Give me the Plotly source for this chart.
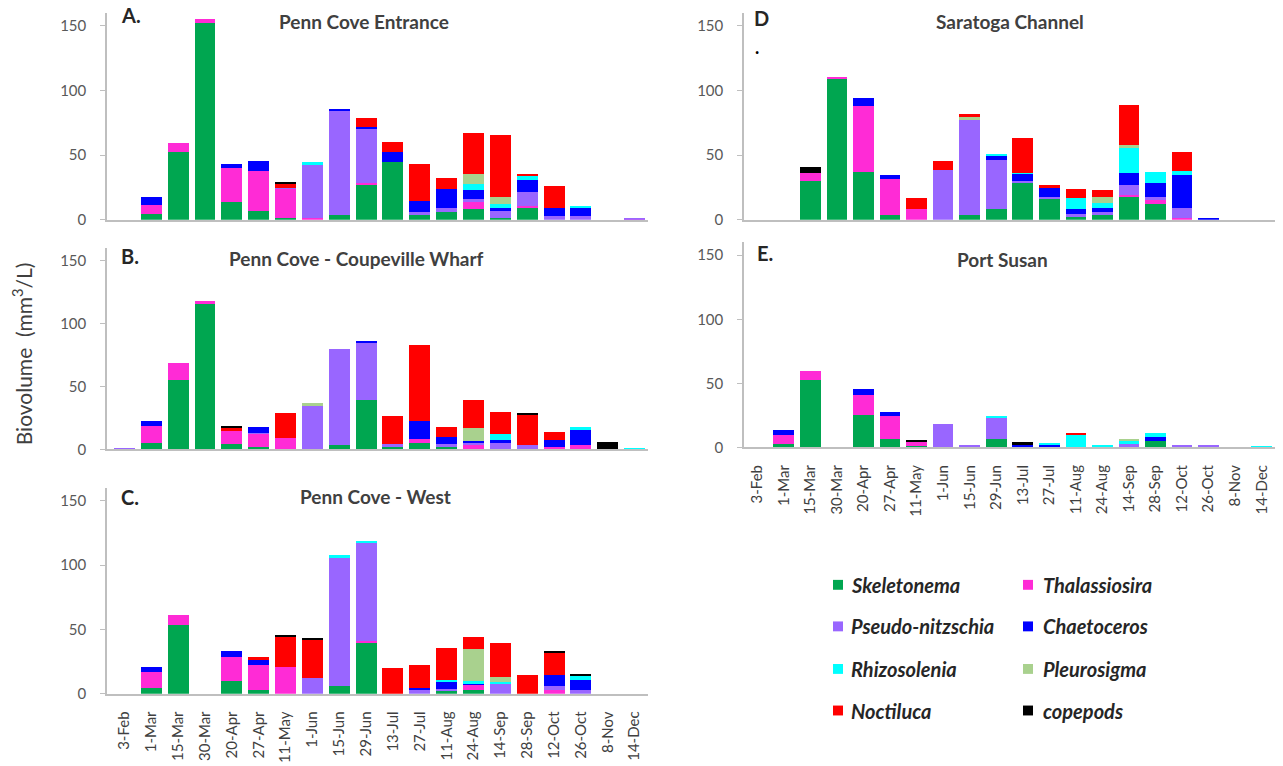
import plotly.graph_objects as go

W, H = 1283, 766

dates = ["3-Feb", "1-Mar", "15-Mar", "30-Mar", "20-Apr", "27-Apr", "11-May", "1-Jun",
         "15-Jun", "29-Jun", "13-Jul", "27-Jul", "11-Aug", "24-Aug", "14-Sep", "28-Sep",
         "12-Oct", "26-Oct", "8-Nov", "14-Dec"]

species = ["Skeletonema", "Thalassiosira", "Pseudo-nitzschia", "Chaetoceros",
           "Rhizosolenia", "Pleurosigma", "Noctiluca", "copepods"]
colors = ["#00A650", "#FF2BD6", "#9966FF", "#0000FF",
          "#00FFFF", "#A9D18E", "#FF0000", "#000000"]

# A. Penn Cove Entrance
skeletonema_A = [0, 4.5, 52, 152.5, 13.5, 7, 1, 0, 3.6, 27, 44.4, 4, 6, 8.4, 1.5, 9.2, 0, 0, 0, 0]
thalassiosira_A = [0, 6.5, 7, 2.8, 26.3, 31, 23, 1.5, 0, 1, 0, 0, 0, 5, 0, 1.3, 0, 0, 0, 0.3]
pseudonitzschia_A = [0, 0, 0, 0, 0, 0, 0.5, 41.6, 80.6, 43, 0, 2, 3, 2.5, 5, 10.7, 2.8, 2.8, 0, 1.2]
chaetoceros_A = [0, 6.3, 0, 0, 3.3, 7.7, 0, 0, 1.8, 1, 7.7, 8.7, 14.5, 7, 2.5, 9.7, 6.4, 5.9, 0, 0]
rhizosolenia_A = [0, 0, 0, 0, 0, 0, 0, 1.3, 0, 0, 0, 0, 0, 4.6, 3.3, 3, 0, 2, 0, 0]
pleurosigma_A = [0, 0, 0, 0, 0, 0, 0, 0, 0, 0, 0, 0, 0, 8.2, 5.6, 0, 0, 0, 0, 0]
noctiluca_A = [0, 0, 0, 0, 0, 0, 3.5, 0, 0, 6.5, 8.2, 28.3, 8.9, 31, 47.7, 1.5, 16.6, 0, 0, 0]
copepods_A = [0, 0, 0, 0, 0, 0, 0.5, 0, 0, 0, 0, 0, 0, 0, 0, 0, 0, 0, 0, 0]

# B. Penn Cove - Coupeville Wharf
skeletonema_B = [0, 4.7, 55, 115.7, 3.9, 1.5, 0, 0, 3.4, 39.4, 1.8, 4.7, 2, 0, 0, 0, 0, 0, 0, 0]
thalassiosira_B = [0, 13.8, 13.6, 2, 10.4, 11, 8.6, 0, 0, 0, 0, 3.4, 0, 3.4, 0, 0, 2, 3.4, 0, 0]
pseudonitzschia_B = [0.5, 0, 0, 0, 0, 0.5, 0, 34.2, 76.2, 45, 2, 0, 1.8, 2, 4.7, 3.4, 0, 0, 0, 0]
chaetoceros_B = [0, 3.7, 0, 0, 0, 4.4, 0, 0, 0, 1, 0, 14.4, 6, 1.3, 2.6, 0, 5.2, 11.7, 0, 0]
rhizosolenia_B = [0, 0, 0, 0, 0, 0, 0, 0, 0, 0, 0, 0, 0, 0, 5.2, 0, 0, 2.3, 0, 0.5]
pleurosigma_B = [0, 0, 0, 0, 0, 0, 0, 2.8, 0, 0, 0, 0, 0, 10.2, 0, 0, 0, 0, 0, 0]
noctiluca_B = [0, 0, 0, 0, 2.6, 0, 20.6, 0, 0, 0, 23, 60.3, 7.8, 22.5, 17, 23.5, 6.5, 0, 0, 0]
copepods_B = [0, 0, 0, 0, 0.8, 0, 0, 0, 0, 0, 0, 0, 0, 0, 0, 2, 0, 0, 5.5, 0]

# C. Penn Cove - West
skeletonema_C = [0, 4.6, 53.2, 0, 9.7, 2.8, 0, 0, 5.9, 40, 0, 0, 2, 2.6, 0, 0, 0, 0, 0, 0]
thalassiosira_C = [0, 12, 7.7, 0, 19.2, 19.7, 20.7, 0, 0, 1.3, 0, 0, 0, 3.8, 0, 0, 3, 0, 0, 0]
pseudonitzschia_C = [0, 0, 0, 0, 0, 0, 0, 12.3, 100.3, 76, 0, 2.8, 2, 0, 7.2, 0, 2.8, 2.8, 0, 0]
chaetoceros_C = [0, 3.8, 0, 0, 4.4, 3.8, 0, 0, 0, 0, 0, 1.8, 5.6, 2, 0, 0, 8.4, 8.2, 0, 0]
rhizosolenia_C = [0, 0, 0, 0, 0, 0, 0, 0, 1.5, 1, 0, 0, 1.3, 1.3, 1.8, 0, 0, 2.6, 0, 0]
pleurosigma_C = [0, 0, 0, 0, 0, 0, 0, 0, 0, 0, 0, 0, 0, 24.8, 3.8, 0, 0, 0, 0, 0]
noctiluca_C = [0, 0, 0, 0, 0, 2, 23.5, 30.2, 0, 0, 20, 17.9, 24.8, 9.2, 26.9, 14.8, 17.1, 0, 0, 0]
copepods_C = [0, 0, 0, 0, 0, 0, 0.8, 1, 0, 0, 0, 0, 0, 0, 0, 0, 1.8, 1.8, 0, 0]

# D. Saratoga Channel
skeletonema_D = [0, 0, 30.3, 109.2, 36.9, 3.6, 0, 0, 3.6, 8, 28.5, 16.4, 2.8, 3.6, 17.7, 12.3, 0, 0, 0, 0]
thalassiosira_D = [0, 0, 5.9, 1.3, 51.3, 28.2, 8.5, 0, 0, 0, 0, 0, 0, 0, 1.3, 2.8, 1.3, 0, 0, 0]
pseudonitzschia_D = [0, 0, 0, 0, 0, 0, 0, 38.7, 74.1, 38.5, 1.3, 1, 1.3, 2.6, 8.2, 2.6, 7.9, 0, 0, 0]
chaetoceros_D = [0, 0, 0, 0, 6.2, 3.1, 0, 0, 0, 2.6, 5.9, 7.2, 3.8, 3.1, 9, 10.8, 25.1, 1.5, 0, 0]
rhizosolenia_D = [0, 0, 0, 0, 0, 0, 0, 0, 0, 1.8, 0.5, 0, 8.5, 3.8, 19.7, 8.2, 3.6, 0, 0, 0]
pleurosigma_D = [0, 0, 0, 0, 0, 0, 0, 0, 1.5, 0, 0, 0, 0, 4.4, 1.5, 0, 0, 0, 0, 0]
noctiluca_D = [0, 0, 0, 0, 0, 0, 8.5, 6.9, 2.3, 0, 26.9, 2.6, 7.4, 5.1, 31.3, 0, 14.4, 0, 0, 0]
copepods_D = [0, 0, 4.4, 0, 0, 0, 0, 0, 0, 0, 0, 0, 0, 0, 0, 0, 0, 0, 0, 0]

# E. Port Susan
skeletonema_E = [0, 2.8, 52.7, 0, 25.3, 6.7, 1, 0, 0, 6.7, 0, 0, 0, 0, 0, 4.7, 0, 0, 0, 0]
thalassiosira_E = [0, 6.5, 7, 0, 15.5, 18.1, 3.1, 0, 0, 0, 0, 0, 0, 0, 0, 0, 0, 0.5, 0, 0]
pseudonitzschia_E = [0, 0, 0, 0, 0, 0, 0, 17.8, 1.5, 16, 0, 0, 0, 0, 2.8, 0, 1.8, 1, 0, 0]
chaetoceros_E = [0, 3.9, 0, 0, 4.7, 2.6, 0, 0, 0, 0, 1.5, 1.5, 0, 0, 0, 3.4, 0, 0, 0, 0]
rhizosolenia_E = [0, 0, 0, 0, 0, 0, 0, 0, 0, 1.3, 0, 1, 9.3, 2, 1.8, 3.4, 0, 0, 0, 0.5]
pleurosigma_E = [0, 0, 0, 0, 0, 0, 0, 0, 0, 0, 0, 0, 0, 0, 1.3, 0, 0, 0, 0, 0]
noctiluca_E = [0, 0, 0, 0, 0, 0, 0, 0, 0, 0, 0, 0, 1.8, 0, 0, 0, 0, 0, 0, 0]
copepods_E = [0, 0, 0, 0, 0, 0, 1.8, 0, 0, 0, 2.6, 0, 0, 0, 0, 0, 0, 0, 0, 0]

FONT = "Lato"
GREY_TEXT = "#404040"
AXIS_GREY = "#BFBFBF"


def fx(px):
    return px / W


def fy(px):
    return 1 - px / H


# panel: letter, title, series, x domain (px), x range start, y zero (px), y top (px),
# tick labels shown, letter position, title centre
panels = [
    ("A.", "Penn Cove Entrance",
     [skeletonema_A, thalassiosira_A, pseudonitzschia_A, chaetoceros_A,
      rhizosolenia_A, pleurosigma_A, noctiluca_A, copepods_A],
     (107, 648), -0.65, 222, 13, False, (119, 15), (364, 22)),
    ("B.", "Penn Cove - Coupeville Wharf",
     [skeletonema_B, thalassiosira_B, pseudonitzschia_B, chaetoceros_B,
      rhizosolenia_B, pleurosigma_B, noctiluca_B, copepods_B],
     (107, 648), -0.65, 454, 251, False, (119, 259), (356, 261)),
    ("C.", "Penn Cove - West",
     [skeletonema_C, thalassiosira_C, pseudonitzschia_C, chaetoceros_C,
      rhizosolenia_C, pleurosigma_C, noctiluca_C, copepods_C],
     (107, 648), -0.65, 701, 493, True, (119, 502), (375, 502)),
    ("D", "Saratoga Channel",
     [skeletonema_D, thalassiosira_D, pseudonitzschia_D, chaetoceros_D,
      rhizosolenia_D, pleurosigma_D, noctiluca_D, copepods_D],
     (744, 1275), -0.5, 222, 13, False, (752, 18), (1010, 22)),
    ("E.", "Port Susan",
     [skeletonema_E, thalassiosira_E, pseudonitzschia_E, chaetoceros_E,
      rhizosolenia_E, pleurosigma_E, noctiluca_E, copepods_E],
     (744, 1275), -0.5, 452, 245, True, (755, 256), (1002, 262)),
]

fig = go.Figure()
annotations = []
layout_axes = {}

for i, (letter, title, series, xdom, xstart, y0, ytop, show_x, lpos, tpos) in enumerate(panels):
    n = "" if i == 0 else str(i + 1)
    xa, ya = "x" + n, "y" + n
    for name, col, vals in zip(species, colors, series):
        fig.add_trace(go.Bar(
            x=dates, y=vals, name=name, marker=dict(color=col, line=dict(width=0)),
            xaxis=xa, yaxis=ya, showlegend=False,
        ))
    layout_axes["xaxis" + n] = dict(
        domain=[fx(xdom[0]), fx(xdom[1])], anchor=ya,
        type="category", categoryorder="array", categoryarray=dates,
        range=[xstart, len(dates) - 0.5],
        showline=True, linecolor=AXIS_GREY, linewidth=1.5,
        showgrid=False, zeroline=False, ticks="",
        showticklabels=show_x, tickangle=-90, ticklabelstandoff=10,
        tickfont=dict(family=FONT, size=15, color=GREY_TEXT),
    )
    layout_axes["yaxis" + n] = dict(
        domain=[fy(y0), fy(ytop)], anchor=xa,
        range=[0, 160], tickvals=[0, 50, 100, 150],
        showline=True, linecolor=AXIS_GREY, linewidth=1.5,
        showgrid=False, zeroline=False,
        ticks="outside", ticklen=5, tickcolor=AXIS_GREY, ticklabelstandoff=11,
        tickfont=dict(family=FONT, size=15, color="#595959"),
    )
    annotations.append(dict(
        text="<b>" + letter + "</b>", x=fx(lpos[0]), y=fy(lpos[1]),
        xref="paper", yref="paper", xanchor="left", yanchor="middle",
        showarrow=False, font=dict(family=FONT, size=20, color="#262626"),
    ))
    annotations.append(dict(
        text="<b>" + title + "</b>", x=fx(tpos[0]), y=fy(tpos[1]),
        xref="paper", yref="paper", xanchor="center", yanchor="middle",
        showarrow=False, font=dict(family=FONT, size=19, color=GREY_TEXT),
    ))

# stray mark under panel D label
annotations.append(dict(
    text="<b>.</b>", x=fx(757), y=fy(48), xref="paper", yref="paper",
    xanchor="center", yanchor="middle", showarrow=False,
    font=dict(family=FONT, size=18, color="#000000"),
))

# shared y-axis title
annotations.append(dict(
    text="Biovolume  (mm<sup>3</sup>/L)", x=fx(22), y=fy(358),
    xref="paper", yref="paper", xanchor="center", yanchor="middle",
    textangle=-90, showarrow=False,
    font=dict(family=FONT, size=21, color=GREY_TEXT),
))

# legend: two columns, four rows
shapes = []
legend_rows = [591, 633, 676, 718]
legend_cols = [(833, 849), (1023, 1041)]
for k, (name, col) in enumerate(zip(species, colors)):
    r, c = divmod(k, 2)
    mx, tx = legend_cols[c]
    yc = legend_rows[r]
    shapes.append(dict(
        type="rect", xref="paper", yref="paper",
        x0=fx(mx), x1=fx(mx + 10), y0=fy(yc + 5), y1=fy(yc - 5),
        fillcolor=col, line=dict(width=0),
    ))
    annotations.append(dict(
        text="<b><i>" + name + "</i></b>", x=fx(tx), y=fy(yc),
        xref="paper", yref="paper", xanchor="left", yanchor="middle",
        showarrow=False, font=dict(family=FONT, size=20, color="#262626"),
    ))

fig.update_layout(
    width=W, height=H, margin=dict(l=0, r=0, t=0, b=0),
    barmode="stack", bargap=0.22,
    plot_bgcolor="white", paper_bgcolor="white",
    annotations=annotations, shapes=shapes,
    **layout_axes,
)

fig.write_html("out.html")
